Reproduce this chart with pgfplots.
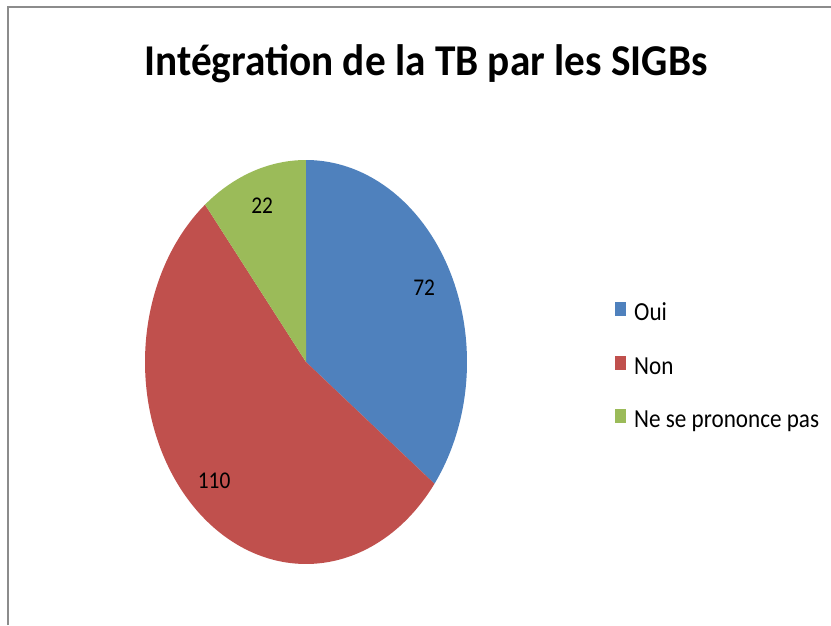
\documentclass[border=0pt]{standalone}
\usepackage{pgfplots}
\usepackage{pgfplotstable}
\pgfplotsset{compat=1.18}
\usepackage{fontspec}
\setmainfont{Carlito}
\definecolor{oui}{HTML}{4F81BD}
\definecolor{non}{HTML}{C0504D}
\definecolor{nsp}{HTML}{9BBB59}
\pgfplotstableread{
label value
Oui 72
Non 110
NSP 22
}\piedata
\newcommand{\sq}[1]{\scalebox{0.89}[1]{#1}}
\begin{document}
\begin{tikzpicture}
\pgfplotstablegetelem{0}{value}\of\piedata \let\va\pgfplotsretval
\pgfplotstablegetelem{1}{value}\of\piedata \let\vb\pgfplotsretval
\pgfplotstablegetelem{2}{value}\of\piedata \let\vc\pgfplotsretval
\pgfmathsetmacro{\tot}{\va+\vb+\vc}
\pgfmathsetmacro{\aA}{90}
\pgfmathsetmacro{\aB}{\aA-360*(\va/\tot)}
\pgfmathsetmacro{\aC}{\aB-360*(\vb/\tot)}
\pgfmathsetmacro{\aD}{\aC-360*(\vc/\tot)}
\pgfmathsetmacro{\mA}{(\aA+\aB)/2}
\pgfmathsetmacro{\mB}{(\aB+\aC)/2}
\pgfmathsetmacro{\mC}{(\aC+\aD)/2}
\def\cx{306}\def\cy{263}\def\rx{161}\def\ry{202}\def\lf{0.82}
\begin{axis}[
  scale only axis, width=831pt, height=625pt,
  xmin=0, xmax=831, ymin=0, ymax=625,
  hide axis, clip=false,
  legend cell align=left,
  legend style={draw=none, fill=none, inner sep=0pt, at={(axis cs:615,323)}, anchor=north west,
    font=\fontsize{26}{26}\selectfont, row sep=30pt,
    nodes={inner sep=0pt, text height=17pt, text depth=5pt}},
  legend image code/.code={\fill[#1] (0pt,-1.5pt) rectangle (10.5pt,12.5pt);},
]
\coordinate (bl) at (axis cs:0,0);
\coordinate (tr) at (axis cs:831,625);
\addplot[draw=none, fill=oui, domain=\aB:\aA, samples=120, variable=\t]
  ({\cx+\rx*cos(t)},{\cy+\ry*sin(t)}) -- (axis cs:\cx,\cy) -- cycle;
\addlegendentry{\hspace{8.5pt}\sq{Oui}}
\addplot[draw=none, fill=non, domain=\aC:\aB, samples=160, variable=\t]
  ({\cx+\rx*cos(t)},{\cy+\ry*sin(t)}) -- (axis cs:\cx,\cy) -- cycle;
\addlegendentry{\hspace{8.5pt}\sq{Non}}
\addplot[draw=none, fill=nsp, domain=\aD:\aC, samples=60, variable=\t]
  ({\cx+\rx*cos(t)},{\cy+\ry*sin(t)}) -- (axis cs:\cx,\cy) -- cycle;
\addlegendentry{\hspace{8.5pt}\sq{Ne se prononce pas}}
\node[font=\fontsize{24}{24}\selectfont] at (axis cs:{\cx+\lf*\rx*cos(\mA)},{\cy+\lf*\ry*sin(\mA)}) {\sq{\va}};
\node[font=\fontsize{24}{24}\selectfont] at (axis cs:{\cx+\lf*\rx*cos(\mB)},{\cy+\lf*\ry*sin(\mB)}) {\sq{\vb}};
\node[font=\fontsize{24}{24}\selectfont] at (axis cs:{\cx+\lf*\rx*cos(\mC)},{\cy+\lf*\ry*sin(\mC)}) {\sq{\vc}};
\node[anchor=base, font=\bfseries\fontsize{44}{44}\selectfont] at (axis cs:426,549) {\scalebox{0.938}[1]{Intégration de la TB par les SIGBs}};
\draw[black!45, line width=1.5pt] (axis cs:8,0) -- (axis cs:8,618) -- (axis cs:831,618);
\end{axis}
\pgfresetboundingbox
\path[use as bounding box] (bl) rectangle (tr);
\end{tikzpicture}
\end{document}
